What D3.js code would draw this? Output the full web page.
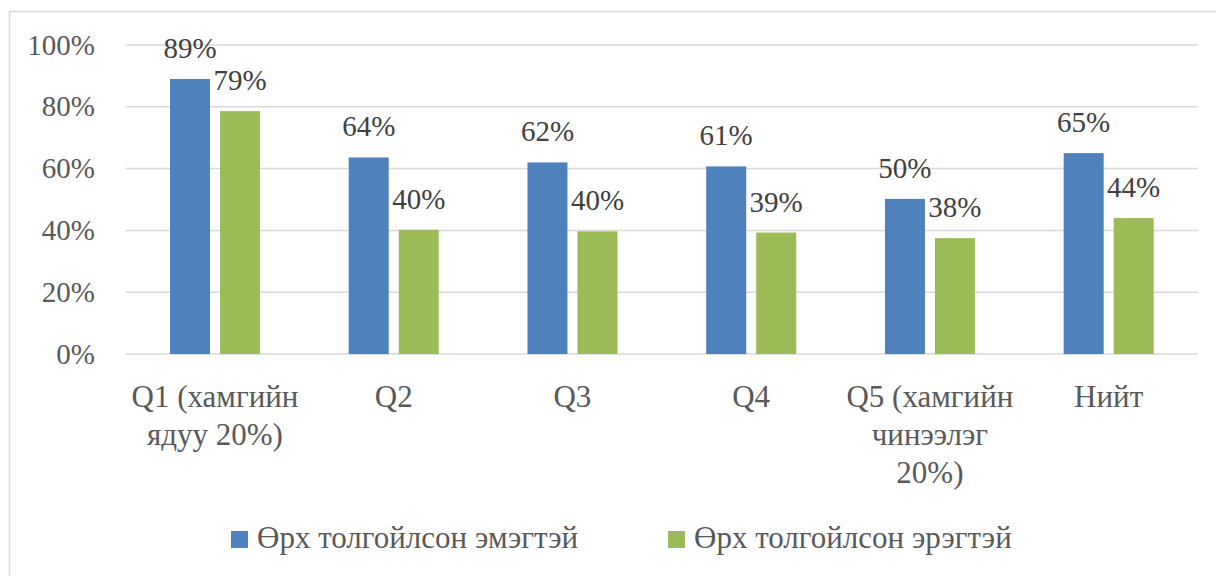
<!DOCTYPE html>
<html>
<head>
<meta charset="utf-8">
<script src="https://cdn.jsdelivr.net/npm/d3@7"></script>
</head>
<body style="margin:0">
<svg id="fig" width="1216" height="576"></svg>
<script>
// Бүлгүүд (мөр бүрээр хуваасан нэрс) ба хоёр цувааны утгууд
const categories = ["Q1", "Q2", "Q3", "Q4", "Q5", "Нийт"];
const categoryLines = [
  ["Q1 (хамгийн", "ядуу 20%)"],
  ["Q2"],
  ["Q3"],
  ["Q4"],
  ["Q5 (хамгийн", "чинээлэг", "20%)"],
  ["Нийт"]
];
const seriesNames = ["Өрх толгойлсон эмэгтэй", "Өрх толгойлсон эрэгтэй"];
const female = [0.89, 0.636, 0.62, 0.607, 0.502, 0.65];
const male = [0.786, 0.402, 0.397, 0.393, 0.375, 0.44];
const yTicks = [0, 0.2, 0.4, 0.6, 0.8, 1.0];

const colors = ["#4F81BD", "#9BBB59"];
const FONT = '"Liberation Serif"';
const svg = d3.select("#fig");

// хүрээ
svg.append("rect")
  .attr("x", 9.5).attr("y", 11.5)
  .attr("width", 1230).attr("height", 600)
  .attr("fill", "none").attr("stroke", "#d9d9d9").attr("stroke-width", 1.5);

const x0 = d3.scaleBand().domain(categories).range([125.6, 1198]).padding(0);
const x1 = d3.scaleBand().domain([0, 1]).range([44.4, 134.4]).paddingInner(0.2);
const y = d3.scaleLinear().domain([0, 1]).range([354, 45]);

// сүлжээ шугам
svg.append("g").selectAll("line").data(yTicks).join("line")
  .attr("x1", 125.6).attr("x2", 1198)
  .attr("y1", d => y(d)).attr("y2", d => y(d))
  .attr("stroke", "#d9d9d9").attr("stroke-width", 1.5);

// Y тэнхлэгийн шошго
svg.append("g").selectAll("text").data(yTicks).join("text")
  .attr("x", 95).attr("y", d => y(d)).attr("dy", "0.33em")
  .attr("text-anchor", "end")
  .style("font-family", d => FONT).attr("font-size", 29)
  .attr("fill", "#595959")
  .text(d => d3.format(".0%")(d));

// багана
const rows = categories.map((c, i) => ({ c, vals: [female[i], male[i]] }));
const groups = svg.append("g").selectAll("g").data(rows).join("g")
  .attr("transform", d => `translate(${x0(d.c)},0)`);

groups.selectAll("rect").data(d => d.vals).join("rect")
  .attr("x", (d, j) => x1(j))
  .attr("width", x1.bandwidth())
  .attr("y", d => y(d))
  .attr("height", d => y(0) - y(d))
  .attr("fill", (d, j) => colors[j]);

groups.selectAll("text").data(d => d.vals).join("text")
  .attr("x", (d, j) => x1(j) + x1.bandwidth() / 2)
  .attr("y", d => y(d) - 21)
  .attr("text-anchor", "middle")
  .style("font-family", d => FONT).attr("font-size", 29)
  .attr("fill", "#404040")
  .text(d => d3.format(".0%")(d));

// X тэнхлэгийн нэрс
const xl = svg.append("g").selectAll("text").data(categories).join("text")
  .attr("x", d => x0(d) + x0.bandwidth() / 2)
  .attr("y", 407)
  .attr("text-anchor", "middle")
  .style("font-family", d => FONT).attr("font-size", 31)
  .attr("fill", "#595959");
xl.selectAll("tspan").data((d, i) => categoryLines[i]).join("tspan")
  .attr("x", function () { return d3.select(this.parentNode).attr("x"); })
  .attr("dy", (d, k) => k === 0 ? 0 : 38)
  .text(d => d);

// тайлбар
const legendX = [231, 668];
const lg = svg.append("g").selectAll("g").data(seriesNames).join("g")
  .attr("transform", (d, i) => `translate(${legendX[i]},531)`);
lg.append("rect").attr("width", 17).attr("height", 17).attr("fill", (d, i) => colors[i]);
lg.append("text").attr("x", 26).attr("y", 17)
  .style("font-family", d => FONT).attr("font-size", 31)
  .attr("fill", "#595959")
  .text(d => d);
</script>
</body>
</html>
